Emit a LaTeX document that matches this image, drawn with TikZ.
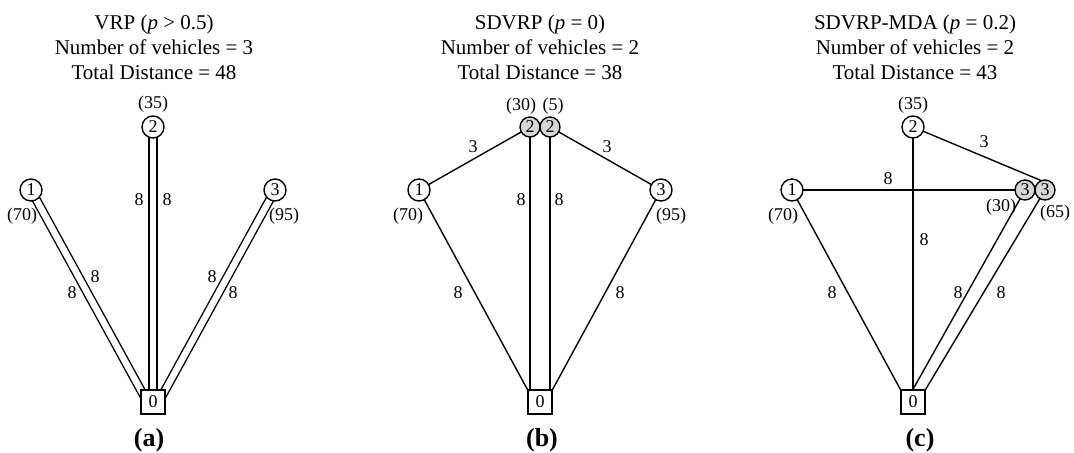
\documentclass[tikz,border=0pt]{standalone}
\usepackage{fontspec}
\setmainfont{Liberation Serif}
\usetikzlibrary{calc,backgrounds}
\definecolor{splitgray}{RGB}{215,215,215}
\begin{document}
\begin{tikzpicture}[x=0.5pt,y=-0.5pt,
 every node/.style={font=\fontsize{9}{10}\selectfont},
 cust/.style={circle,draw,line width=0.7pt,fill=white,minimum size=11pt,inner sep=0pt},
 splitnode/.style={circle,draw,line width=0.7pt,fill=splitgray,minimum size=10pt,inner sep=0pt},
 depot/.style={rectangle,draw,line width=0.7pt,fill=white,minimum size=12pt,inner sep=0pt},
 conn/.style={line width=0.7pt},
 dbl/.style={line width=0.7pt,double=white,double distance=3.2pt},
 paneltitle/.style={align=center,font=\fontsize{10.5}{12.5}\selectfont},
 sublabel/.style={font=\fontsize{13}{15}\selectfont\bfseries},
 lbl/.style={inner sep=0pt}]
\useasboundingbox (0,0) rectangle (1074,453);

% ---------- panel (a) ----------
\node[paneltitle] (ta) at (154,47) {VRP (\textit{p} > 0.5)\\Number of vehicles = 3\\Total Distance = 48};
\node[cust] (a2) at (153,127) {2};
\node[cust] (a1) at (31,190) {1};
\node[cust] (a3) at (275,190) {3};
\node[depot] (a0) at (153,402) {0};
\node[lbl] (da2) at (153,104) {(35)};
\node[lbl] (da1) at (22,216) {(70)};
\node[lbl] (da3) at (284,216) {(95)};
\node[lbl] (ea1) at (139,200) {8};
\node[lbl] (ea2) at (167,200) {8};
\node[lbl] (ea3) at (72,293) {8};
\node[lbl] (ea4) at (95,277) {8};
\node[lbl] (ea5) at (212,277) {8};
\node[lbl] (ea6) at (233,293) {8};
\node[sublabel] (sa) at (149,440) {(a)};
\begin{scope}[on background layer]
\draw[dbl] (a2.center) -- (a0.center);
\draw[dbl] (a1.center) -- ($(a1.center)!1.08!(a0.north west)$);
\draw[dbl] (a3.center) -- ($(a3.center)!1.08!(a0.north east)$);
\end{scope}

% ---------- panel (b) ----------
\node[paneltitle] (tb) at (540,47) {SDVRP (\textit{p} = 0)\\Number of vehicles = 2\\Total Distance = 38};
\node[cust] (b1) at (419,190) {1};
\node[cust] (b3) at (661,190) {3};
\node[splitnode] (b2a) at (530,127) {2};
\node[splitnode] (b2b) at (550,127) {2};
\node[depot] (b0) at (540,402) {0};
\node[lbl] (db2a) at (521,106) {(30)};
\node[lbl] (db2b) at (553,106) {(5)};
\node[lbl] (db1) at (408,216) {(70)};
\node[lbl] (db3) at (671,216) {(95)};
\node[lbl] (eb1) at (473,147) {3};
\node[lbl] (eb2) at (607,147) {3};
\node[lbl] (eb3) at (521,200) {8};
\node[lbl] (eb4) at (559,200) {8};
\node[lbl] (eb5) at (458,293) {8};
\node[lbl] (eb6) at (620,293) {8};
\node[sublabel] (sb) at (542,440) {(b)};
\begin{scope}[on background layer]
\draw[conn] (b1.center) -- (b2a.center);
\draw[conn] (b2b.center) -- (b3.center);
\draw[conn] (b2a.center) -- (b2a.center |- b0.center);
\draw[conn] (b2b.center) -- (b2b.center |- b0.center);
\draw[conn] (b1.center) -- (b0.north west);
\draw[conn] (b3.center) -- (b0.north east);
\end{scope}

% ---------- panel (c) ----------
\node[paneltitle] (tc) at (915,47) {SDVRP-MDA (\textit{p} = 0.2)\\Number of vehicles = 2\\Total Distance = 43};
\node[cust] (c2) at (913,127) {2};
\node[cust] (c1) at (792,190) {1};
\node[splitnode] (c3a) at (1025,190) {3};
\node[splitnode] (c3b) at (1045,190) {3};
\node[depot] (c0) at (913,402) {0};
\node[lbl] (dc2) at (913,105) {(35)};
\node[lbl] (dc1) at (783,216) {(70)};
\node[lbl] (dc3a) at (1001,207) {(30)};
\node[lbl] (dc3b) at (1055,213) {(65)};
\node[lbl] (ec1) at (888,179) {8};
\node[lbl] (ec2) at (984,142) {3};
\node[lbl] (ec3) at (924,240) {8};
\node[lbl] (ec4) at (832,293) {8};
\node[lbl] (ec5) at (958,293) {8};
\node[lbl] (ec6) at (1001,293) {8};
\node[sublabel] (sc) at (920,440) {(c)};
\begin{scope}[on background layer]
\draw[conn] (c1.center) -- (c3a.center);
\draw[conn] (c2.center) -- (c0.center);
\draw[conn] (c2.center) -- (c3b.115);
\draw[conn] (c1.center) -- (c0.north west);
\draw[conn] (c3a.center) -- (c0.north);
\draw[conn] (c3b.center) -- (c0.north east);
\end{scope}
\end{tikzpicture}
\end{document}
